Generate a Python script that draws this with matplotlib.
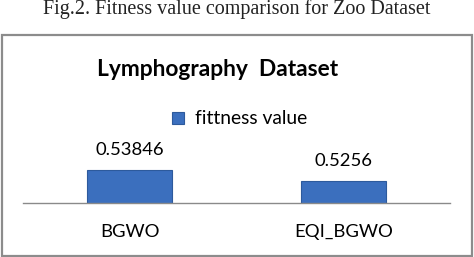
import matplotlib
matplotlib.use("Agg")
from matplotlib import pyplot as plt
from matplotlib.patches import Rectangle

categories = ["BGWO", "EQI_BGWO"]
values = [0.53846, 0.5256]
value_labels = ["0.53846", "0.5256"]
series_name = "fittness value"
caption = "Fig.2. Fitness value comparison for Zoo Dataset"
title = "Lymphography  Dataset"

W, H = 474, 257
fig = plt.figure(figsize=(W / 100, H / 100), dpi=100)
fig.patch.set_facecolor("white")


def fx(px):
    return px / W


def fy(py):
    return 1 - py / H


# outer chart frame
fig.patches.append(
    Rectangle((fx(2), fy(256)), fx(470), (256 - 35) / H,
              transform=fig.transFigure, fill=False,
              edgecolor="#8c8c8c", linewidth=1.6)
)

fig.text(0.5, fy(9), caption, ha="center", va="center",
         fontfamily="Liberation Serif", fontsize=14.5, color="#222222")
fig.text(fx(218), fy(70), title, ha="center", va="center",
         fontfamily="Lato", fontweight="bold", fontsize=16.4, color="black")

ax = fig.add_axes([fx(23), fy(203), fx(427), 43 / H])
x = range(len(categories))
bars = ax.bar(x, values, width=0.4, color="#3b6fbe", edgecolor="#2d5a9c",
              linewidth=0.8, label=series_name)
ax.set_xlim(-0.5, 1.5)
ax.set_ylim(0.5, 0.55)
ax.set_xticks(list(x))
ax.set_xticklabels(categories, fontfamily="Lato", fontsize=13.3)
ax.tick_params(axis="x", length=0, pad=15)
ax.set_yticks([])
for s in ["top", "left", "right"]:
    ax.spines[s].set_visible(False)
ax.spines["bottom"].set_color("#8a8a8a")
ax.spines["bottom"].set_linewidth(1.0)
ax.patch.set_alpha(0)

for b, lab in zip(bars, value_labels):
    ax.annotate(lab, (b.get_x() + b.get_width() / 2, b.get_height()),
                xytext=(0, 8.5), textcoords="offset points",
                ha="center", va="bottom", fontfamily="Lato", fontsize=13.3,
                annotation_clip=False)

fig.legend(handles=[bars], labels=[series_name], loc="center",
           bbox_to_anchor=(fx(240), fy(119)), bbox_transform=fig.transFigure,
           frameon=False, prop={"family": "Lato", "size": 13.9},
           handlelength=0.6, handleheight=0.6, handletextpad=0.6,
           borderpad=0, borderaxespad=0)

fig.savefig("out.png", dpi=100)
